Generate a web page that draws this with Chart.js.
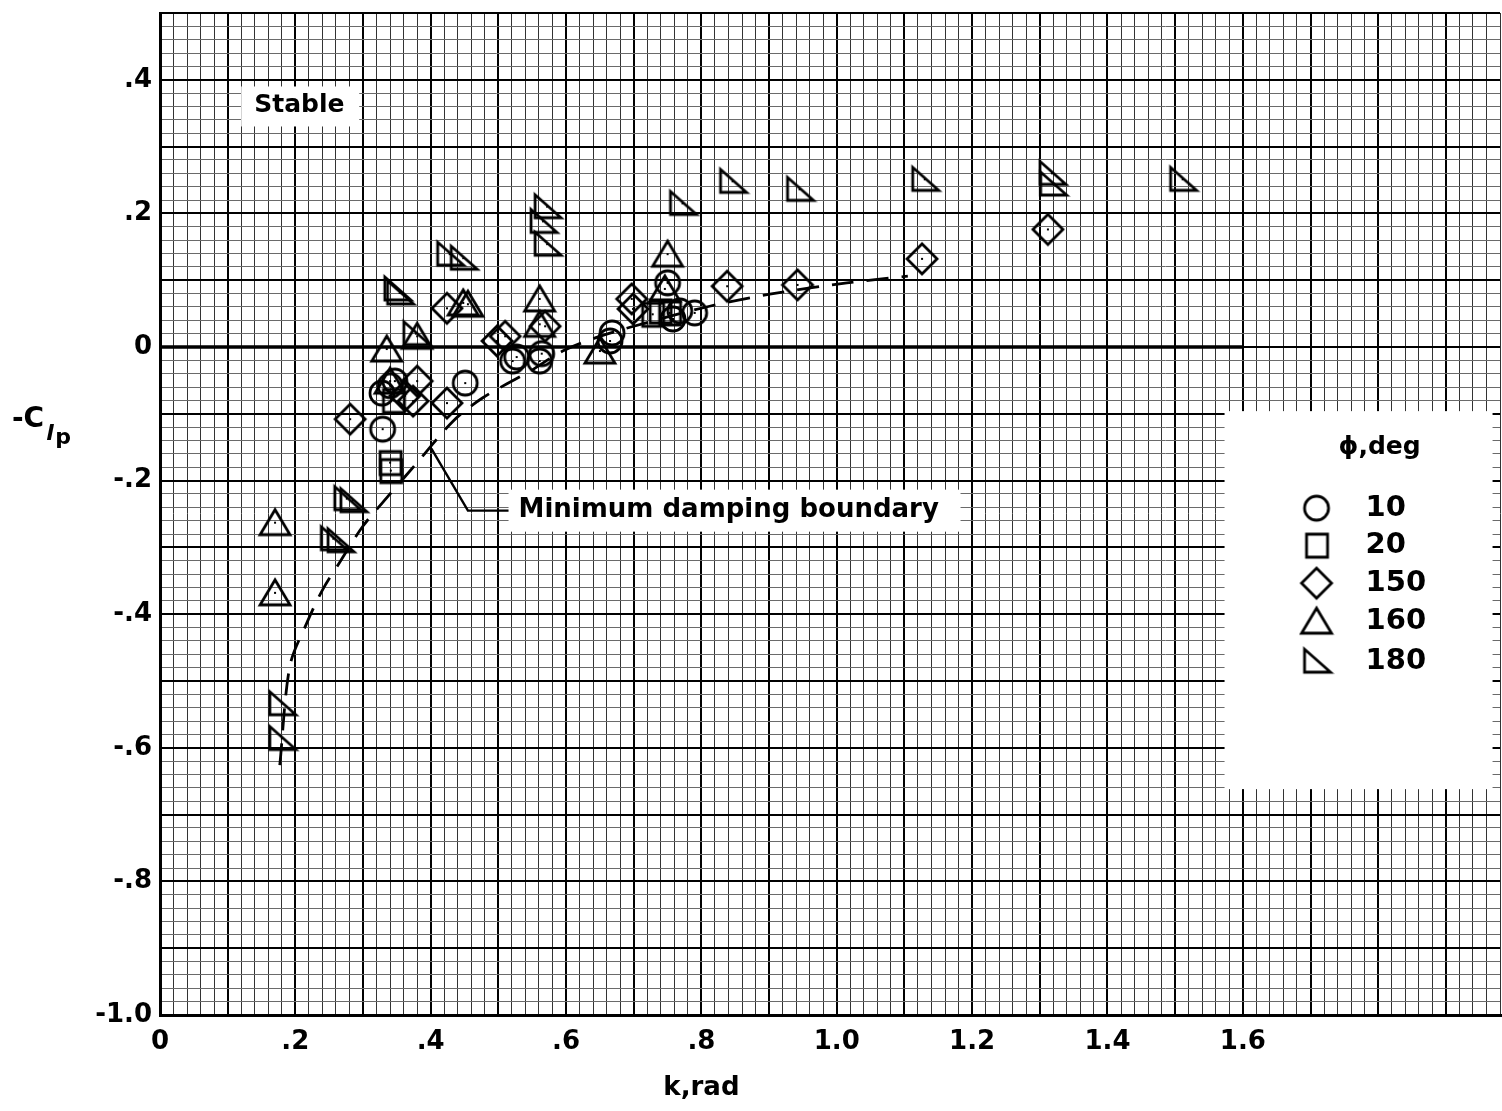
<!DOCTYPE html>
<html>
<head>
<meta charset="utf-8">
<title>-Clp vs k</title>
<script src="https://cdn.jsdelivr.net/npm/chart.js@4/dist/chart.umd.min.js"></script>
<style>
  html, body { margin: 0; padding: 0; background: #fff; overflow: hidden; }
  #plot { display: block; }
</style>
</head>
<body>
<canvas id="plot" width="1540" height="1111"></canvas>
<script>
// Tick labels
const xTickLabels = ['0', '.2', '.4', '.6', '.8', '1.0', '1.2', '1.4', '1.6'];
const yTickLabels = ['-1.0', '-.8', '-.6', '-.4', '-.2', '0', '.2', '.4'];

// phi = 10 deg (circles)
const k10 = [0.329, 0.328, 0.340, 0.347, 0.451, 0.521, 0.527, 0.561, 0.564, 0.665, 0.668, 0.750, 0.758, 0.768, 0.790];
const c10 = [-0.123, -0.069, -0.058, -0.051, -0.054, -0.021, -0.015, -0.021, -0.010, 0.009, 0.021, 0.096, 0.042, 0.054, 0.051];

// phi = 20 deg (squares)
const k20 = [0.340, 0.341, 0.345, 0.728, 0.739, 0.753];
const c20 = [-0.173, -0.185, -0.080, 0.049, 0.054, 0.051];

// phi = 150 deg (diamonds)
const k150 = [0.281, 0.362, 0.374, 0.380, 0.424, 0.424, 0.498, 0.510, 0.569, 0.697, 0.699, 0.838, 0.942, 1.126, 1.312];
const c150 = [-0.108, -0.073, -0.081, -0.051, -0.084, 0.058, 0.009, 0.016, 0.031, 0.072, 0.057, 0.091, 0.093, 0.132, 0.176];

// phi = 160 deg (triangles)
const k160 = [0.170, 0.170, 0.335, 0.340, 0.380, 0.448, 0.455, 0.561, 0.561, 0.650, 0.746, 0.750];
const c160 = [-0.263, -0.368, -0.003, -0.051, 0.016, 0.066, 0.064, 0.072, 0.034, -0.006, 0.087, 0.139];

// phi = 180 deg (right triangles)
const k180 = [0.180, 0.180, 0.276, 0.285, 0.256, 0.266, 0.350, 0.354, 0.378, 0.428, 0.448, 0.572, 0.566, 0.572, 0.772, 0.846, 0.945, 1.130, 1.318, 1.319, 1.511];
const c180 = [-0.534, -0.586, -0.227, -0.230, -0.287, -0.290, 0.087, 0.081, 0.020, 0.139, 0.133, 0.210, 0.188, 0.154, 0.215, 0.248, 0.236, 0.251, 0.260, 0.244, 0.251];

// Minimum damping boundary (dashed curve)
const kBoundary = [0.177, 0.192, 0.217, 0.241, 0.267, 0.300, 0.340, 0.380, 0.433, 0.477, 0.547, 0.595, 0.650, 0.739, 0.812, 0.901, 1.015, 1.105];
const cBoundary = [-0.626, -0.477, -0.413, -0.362, -0.320, -0.268, -0.220, -0.173, -0.111, -0.076, -0.036, -0.006, 0.016, 0.042, 0.061, 0.079, 0.096, 0.106];

// Heavy zero line
const kZero = [0, 1.6];
const cZero = [0, 0];

// Leader from label to the boundary
const kLeader = [0.401, 0.455, 0.515];
const cLeader = [-0.152, -0.245, -0.245];

const legendNames = ['10', '20', '150', '160', '180'];
const legendShapes = ['circle', 'square', 'diamond', 'triangle', 'right'];

const FONT = '"DejaVu Sans", "Liberation Sans", sans-serif';
// wanted plot frame in the page
const AREA = { left: 160, right: 1500, top: 10, bottom: 1015 };

function pts(xs, ys) {
    return xs.map((x, i) => ({ x: x, y: ys[i] }));
}

function isMult(v, step) {
    return Math.abs(v / step - Math.round(v / step)) < 1e-6;
}

function makeMarker(shape, dot) {
    const c = document.createElement('canvas');
    c.width = 36;
    c.height = 36;
    const g = c.getContext('2d');
    g.strokeStyle = '#000';
    g.lineWidth = 2.8;
    g.beginPath();
    switch (shape) {
        case 'circle': g.arc(18, 18, 12, 0, Math.PI * 2); break;
        case 'square': g.rect(8, 7, 21, 23); break;
        case 'diamond': g.moveTo(18, 3); g.lineTo(33, 18); g.lineTo(18, 33); g.lineTo(3, 18); g.closePath(); break;
        case 'triangle': g.moveTo(18, 5); g.lineTo(33, 30); g.lineTo(3, 30); g.closePath(); break;
        case 'right': g.moveTo(6, 6); g.lineTo(6, 29); g.lineTo(32, 29); g.closePath(); break;
    }
    g.stroke();
    if (dot) {
        g.fillStyle = '#000';
        g.fillRect(17, 17, 2, 2);
    }
    return c;
}

const markers = {};
const legendMarkers = {};
legendShapes.forEach(s => {
    markers[s] = makeMarker(s, true);
    legendMarkers[s] = makeMarker(s, false);
});

function scatterSet(label, xs, ys, shape) {
    return {
        label: label,
        data: pts(xs, ys),
        pointStyle: markers[shape],
        pointRadius: 12,
        showLine: false,
        borderColor: '#000',
        backgroundColor: 'transparent'
    };
}

const xTicks = [];
for (let i = 0; i <= 99; i++) xTicks.push({ value: Math.round(i * 2) / 100 });
const yTicks = [];
for (let i = -50; i <= 25; i++) yTicks.push({ value: Math.round(i * 2) / 100 });

// Extra drawing: text labels, leader, legend box, axis titles
const annotations = {
    id: 'annotations',
    afterDatasetsDraw(chart) {
        const { ctx, scales: { x, y } } = chart;
        ctx.save();
        ctx.fillStyle = '#000';
        ctx.strokeStyle = '#000';
        ctx.textBaseline = 'middle';

        // "Stable"
        ctx.fillStyle = '#fff';
        ctx.fillRect(x.getPixelForValue(0.12), y.getPixelForValue(0.39), 118, 40);
        ctx.fillStyle = '#000';
        ctx.font = 'bold 25px ' + FONT;
        ctx.textAlign = 'center';
        ctx.fillText('Stable', x.getPixelForValue(0.206), y.getPixelForValue(0.362));

        // "Minimum damping boundary"
        const lx = x.getPixelForValue(0.515);
        const ly = y.getPixelForValue(-0.245);
        ctx.fillStyle = '#fff';
        ctx.fillRect(lx, ly - 21, 452, 42);
        ctx.fillStyle = '#000';
        ctx.textAlign = 'left';
        ctx.font = 'bold 26px ' + FONT;
        ctx.fillText('Minimum damping boundary', lx + 10, ly);

        ctx.lineWidth = 2.4;
        ctx.beginPath();
        kLeader.forEach((k, i) => {
            const px = x.getPixelForValue(k), py = y.getPixelForValue(cLeader[i]);
            if (i === 0) ctx.moveTo(px, py); else ctx.lineTo(px, py);
        });
        ctx.stroke();

        // Legend
        const bx = x.getPixelForValue(1.573), by = y.getPixelForValue(-0.096);
        const bw = 268, bh = 378;
        ctx.fillStyle = '#fff';
        ctx.fillRect(bx, by, bw, bh);
        ctx.fillStyle = '#000';
        ctx.font = 'bold 25px ' + FONT;
        ctx.textAlign = 'center';
        ctx.fillText('\u03D5,deg', bx + 155, by + 36);
        ctx.font = 'bold 29px ' + FONT;
        ctx.textAlign = 'left';
        const rows = [97, 134, 172, 210, 250];
        legendNames.forEach((name, i) => {
            const m = legendMarkers[legendShapes[i]];
            ctx.drawImage(m, bx + 92 - 18, by + rows[i] - 18);
            ctx.fillText(name, bx + 141, by + rows[i]);
        });

        // Axis titles
        ctx.font = 'bold 28px ' + FONT;
        ctx.textAlign = 'left';
        ctx.fillText('-C', 12, 420);
        const w = ctx.measureText('-C').width;
        ctx.font = 'italic bold 22px ' + FONT;
        ctx.fillText('l', 12 + w + 2, 434);
        ctx.font = 'bold 22px ' + FONT;
        ctx.fillText('p', 12 + w + 11, 438);

        ctx.font = 'bold 26px ' + FONT;
        ctx.textAlign = 'center';
        ctx.fillText('k,rad', x.getPixelForValue(0.8), 1088);
        ctx.restore();
    }
};

const ctx = document.getElementById('plot').getContext('2d');
const chart = new Chart(ctx, {
    type: 'scatter',
    data: {
        datasets: [
            {
                label: 'zero',
                data: pts(kZero, cZero),
                showLine: true,
                borderColor: '#000',
                borderWidth: 3.5,
                pointRadius: 0
            },
            {
                label: 'Minimum damping boundary',
                data: pts(kBoundary, cBoundary),
                showLine: true,
                borderColor: '#000',
                borderWidth: 2.8,
                borderDash: [22, 13],
                tension: 0.3,
                pointRadius: 0
            },
            scatterSet('10', k10, c10, 'circle'),
            scatterSet('20', k20, c20, 'square'),
            scatterSet('150', k150, c150, 'diamond'),
            scatterSet('160', k160, c160, 'triangle'),
            scatterSet('180', k180, c180, 'right')
        ]
    },
    options: {
        responsive: false,
        animation: false,
        devicePixelRatio: 1,
        layout: { padding: { top: 10, right: 30, left: 0, bottom: 0 } },
        plugins: { legend: { display: false }, tooltip: { enabled: false } },
        scales: {
            x: {
                type: 'linear',
                min: 0,
                max: 1.98,
                afterBuildTicks: s => { s.ticks = xTicks.map(t => ({ value: t.value })); },
                afterFit: s => { s.height = 96; s.paddingLeft = 0; s.paddingRight = 0; },
                ticks: {
                    autoSkip: false,
                    maxRotation: 0,
                    padding: 12,
                    color: '#000',
                    font: { family: FONT, size: 26, weight: 'bold' },
                    callback: v => {
                        if (!isMult(v, 0.2) || v > 1.6001) return '';
                        return xTickLabels[Math.round(v / 0.2)];
                    }
                },
                grid: {
                    drawTicks: false,
                    color: c => isMult(c.tick.value, 0.1) ? '#000' : '#333',
                    lineWidth: c => c.tick.value === 0 ? 3 : (isMult(c.tick.value, 0.1) ? 2 : 1)
                },
                border: { display: true, width: 3, color: '#000' }
            },
            y: {
                type: 'linear',
                min: -1.0,
                max: 0.5,
                afterBuildTicks: s => { s.ticks = yTicks.map(t => ({ value: t.value })); },
                afterFit: s => { s.width = 160; s.paddingTop = 0; s.paddingBottom = 0; },
                ticks: {
                    autoSkip: false,
                    padding: 8,
                    color: '#000',
                    font: { family: FONT, size: 26, weight: 'bold' },
                    callback: v => {
                        if (!isMult(v, 0.2) || v > 0.4001) return '';
                        return yTickLabels[Math.round((v + 1) / 0.2)];
                    }
                },
                grid: {
                    drawTicks: false,
                    color: c => isMult(c.tick.value, 0.1) ? '#000' : '#6a6a6a',
                    lineWidth: c => isMult(c.tick.value, 0.1) ? 2 : 1
                },
                border: { display: true, width: 3, color: '#000' }
            }
        }
    },
    plugins: [annotations]
});

// nudge the layout padding so the plot frame lands where the reference has it
const pad = chart.options.layout.padding;
const area = chart.chartArea;
pad.right += area.right - AREA.right;
pad.top += AREA.top - area.top;
pad.bottom += area.bottom - AREA.bottom;
chart.update();
</script>
</body>
</html>
